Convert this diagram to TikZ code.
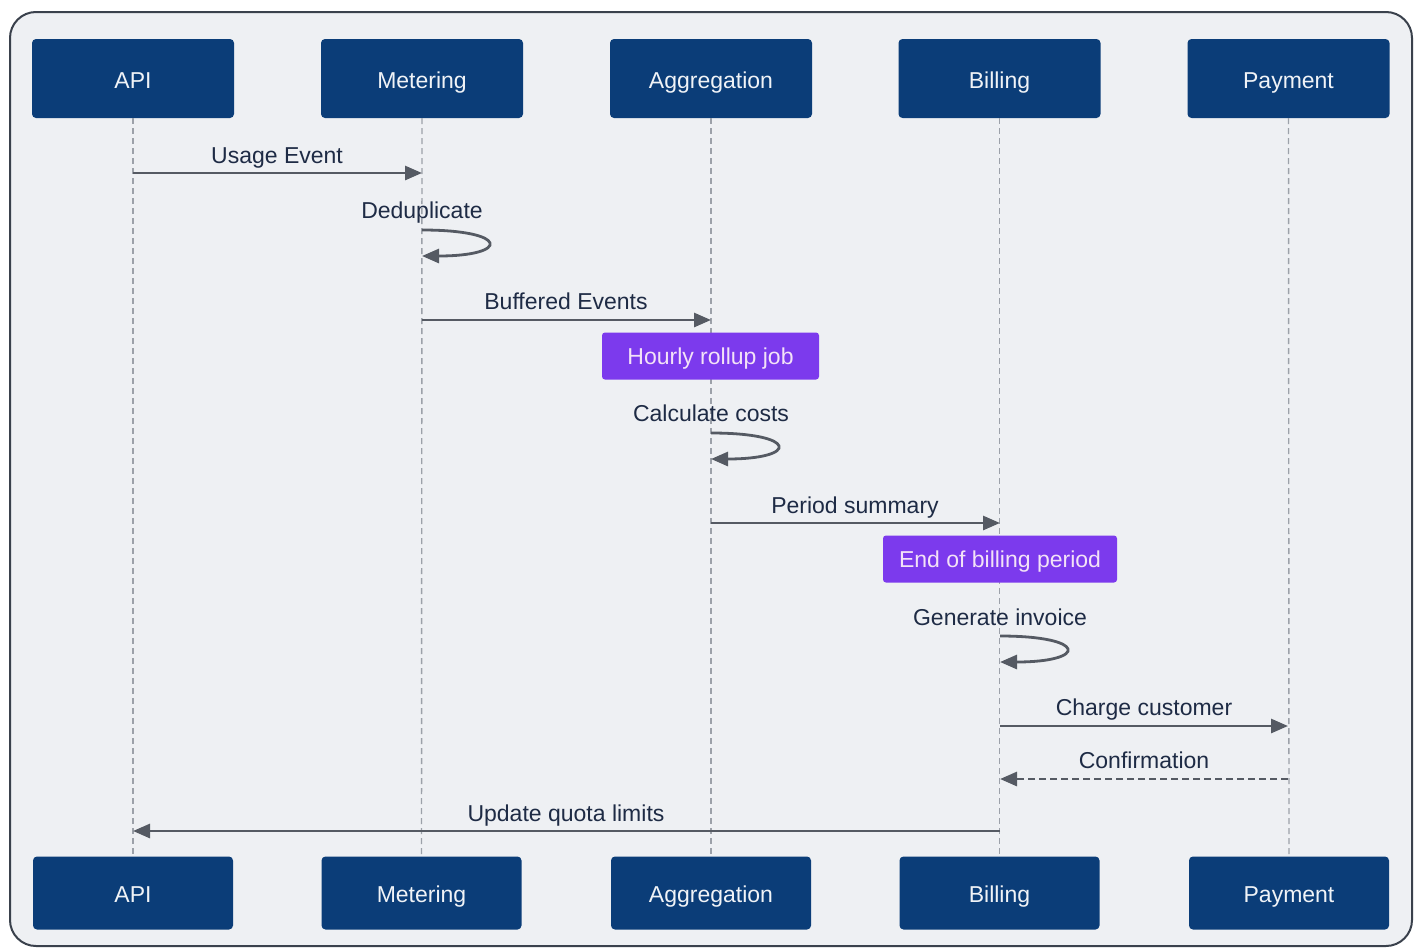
\documentclass[tikz,border=0pt]{standalone}
\usepackage{fontspec}
\setmainfont{Liberation Sans}
\usetikzlibrary{arrows.meta}
\definecolor{navy}{HTML}{0B3D78}
\definecolor{bgc}{HTML}{EEF0F3}
\definecolor{framec}{HTML}{3A414C}
\definecolor{linec}{HTML}{555A63}
\definecolor{lifec}{HTML}{9CA1A9}
\definecolor{txtc}{HTML}{1E2B45}
\definecolor{notec}{HTML}{7C3AED}
\definecolor{notetxt}{HTML}{F3E2F7}
\tikzset{
  txt/.style={font=\fontsize{23}{27}\selectfont, text height=16.5pt, text depth=4.8pt},
  actor/.style={txt, text height=20.5pt, text depth=0.8pt, fill=navy, rounded corners=4pt, text=white!94!navy, minimum width=202pt, minimum height=79pt, inner sep=0pt},
  actorb/.style={actor, minimum width=200pt, minimum height=73pt},
  lifeline/.style={draw=lifec, line width=1.4pt, dash pattern=on 6pt off 4pt},
  msg/.style={draw=linec, line width=2.8pt, -{Triangle[length=17pt,width=14pt]}},
  reply/.style={msg, dash pattern=on 7pt off 4pt},
  lbl/.style={txt, text=txtc, inner sep=0pt},
  note/.style={txt, text height=19.5pt, text depth=1.8pt, fill=notec, rounded corners=3pt, text=notetxt, inner sep=0pt}
}
\begin{document}
\begin{tikzpicture}[x=1pt,y=-1pt]
\useasboundingbox (0,0) rectangle (1418,948);
\fill[white] (0,0) rectangle (1418,948);
\draw[fill=bgc, draw=framec, line width=2pt, rounded corners=26pt] (10,12) rectangle (1412,946);

% actors top
\node[actor] (apiT) at (133,78.5) {API};
\node[actor] (metT) at (422,78.5) {Metering};
\node[actor] (aggT) at (711,78.5) {Aggregation};
\node[actor] (bilT) at (999.5,78.5) {Billing};
\node[actor] (payT) at (1288.5,78.5) {Payment};
% actors bottom
\node[actorb] (apiB) at (133,893) {API};
\node[actorb] (metB) at (421.5,893) {Metering};
\node[actorb] (aggB) at (711,893) {Aggregation};
\node[actorb] (bilB) at (999.5,893) {Billing};
\node[actorb] (payB) at (1289,893) {Payment};

% lifelines
\draw[lifeline] (apiT.south) -- (apiB.north);
\draw[lifeline] (metT.south) -- (metB.north);
\draw[lifeline] (aggT.south) -- (aggB.north);
\draw[lifeline] (bilT.south) -- (bilB.north);
\draw[lifeline] (payT.south) -- (payB.north);

% message points
\coordinate (m1a) at (133,173);  \coordinate (m1b) at (422,173);
\coordinate (m2a) at (422,230);  \coordinate (m2b) at (422,256);
\coordinate (m3a) at (422,320);  \coordinate (m3b) at (711,320);
\coordinate (m5a) at (711,433);  \coordinate (m5b) at (711,459);
\coordinate (m6a) at (711,523);  \coordinate (m6b) at (1000,523);
\coordinate (m8a) at (1000,636); \coordinate (m8b) at (1000,662);
\coordinate (m9a) at (1000,726); \coordinate (m9b) at (1288,726);
\coordinate (m10a) at (1288,779); \coordinate (m10b) at (1000,779);
\coordinate (m11a) at (1000,831); \coordinate (m11b) at (133,831);

% messages
\draw[msg] (m1a) -- (m1b);
\node[lbl] (l1) at (277,158) {Usage Event};

\node[lbl] (l2) at (422,213) {Deduplicate};
\draw[msg] (m2a) .. controls +(88,0) and +(88,0) .. (m2b);

\draw[msg] (m3a) -- (m3b);
\node[lbl] (l3) at (566,304) {Buffered Events};

\node[note, minimum width=217pt, minimum height=47pt] (n1) at (710.5,356) {Hourly rollup job};

\node[lbl] (l5) at (711,416) {Calculate costs};
\draw[msg] (m5a) .. controls +(88,0) and +(88,0) .. (m5b);

\draw[msg] (m6a) -- (m6b);
\node[lbl] (l6) at (855,508) {Period summary};

\node[note, minimum width=234pt, minimum height=47pt] (n2) at (1000,559) {End of billing period};

\node[lbl] (l8) at (1000,620) {Generate invoice};
\draw[msg] (m8a) .. controls +(88,0) and +(88,0) .. (m8b);

\draw[msg] (m9a) -- (m9b);
\node[lbl] (l9) at (1144,710) {Charge customer};

\draw[reply] (m10a) -- (m10b);
\node[lbl] (l10) at (1144,763) {Confirmation};

\draw[msg] (m11a) -- (m11b);
\node[lbl] (l11) at (566,816) {Update quota limits};
\end{tikzpicture}
\end{document}
